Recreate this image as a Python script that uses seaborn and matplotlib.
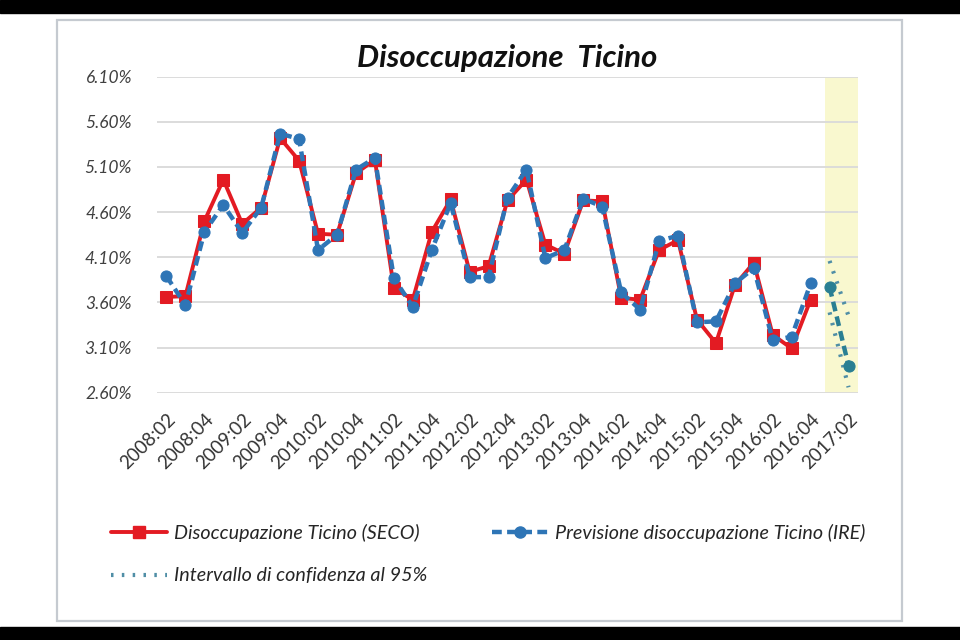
import numpy as np
import pandas as pd
import matplotlib.pyplot as plt
import seaborn as sns
from matplotlib.lines import Line2D
from matplotlib.patches import Rectangle

# trimestri dal 2008:02 al 2017:02
trimestri = [f"{a}:{q:02d}" for a in range(2008, 2018) for q in range(1, 5)][1:38]
etichette_x = ["2008:02", "2008:04", "2009:02", "2009:04", "2010:02", "2010:04",
               "2011:02", "2011:04", "2012:02", "2012:04", "2013:02", "2013:04",
               "2014:02", "2014:04", "2015:02", "2015:04", "2016:02", "2016:04",
               "2017:02"]

# Disoccupazione Ticino (SECO), %
seco = [3.66, 3.67, 4.50, 4.96, 4.47, 4.65, 5.42, 5.17, 4.36, 4.35, 5.03, 5.18,
        3.76, 3.63, 4.38, 4.74, 3.94, 4.00, 4.73, 4.96, 4.24, 4.14, 4.73, 4.72,
        3.65, 3.63, 4.18, 4.29, 3.41, 3.15, 3.79, 4.04, 3.24, 3.09, 3.63]
# Previsione IRE (stima sul passato), %
ire = [3.89, 3.57, 4.38, 4.68, 4.37, 4.65, 5.47, 5.41, 4.18, 4.35, 5.07, 5.20,
       3.87, 3.55, 4.18, 4.70, 3.88, 3.88, 4.76, 5.07, 4.09, 4.18, 4.75, 4.66,
       3.71, 3.52, 4.28, 4.34, 3.38, 3.39, 3.81, 3.98, 3.18, 3.22, 3.81]
# previsione 2017:01 - 2017:02 e intervallo di confidenza
previsione = [3.77, 2.90]
ic_sup = [4.06, 3.45]
ic_inf = [3.49, 2.66]
y_ticks = [2.60, 3.10, 3.60, 4.10, 4.60, 5.10, 5.60, 6.10]

idx = list(range(len(trimestri)))
df_seco = pd.DataFrame({"x": idx[:len(seco)], "val": seco})
df_ire = pd.DataFrame({"x": idx[:len(ire)], "val": ire})
df_prev = pd.DataFrame({"x": idx[-2:], "val": previsione})
df_ic = pd.DataFrame({"x": idx[-2:], "sup": ic_sup, "inf": ic_inf})

ROSSO = "#e31b23"
BLU = "#2e75b6"
TEAL = "#2a7f93"
PUNTI = "#4f8ea6"

sns.set_theme(style="white")
plt.rcParams['font.family'] = ['Lato', 'DejaVu Sans']

fig = plt.figure(figsize=(9.6, 6.4), dpi=100)
fig.patch.set_facecolor("white")

# bande nere dello screenshot e cornice del grafico
fig.patches.append(Rectangle((0, 1 - 13 / 640), 1, 13 / 640, transform=fig.transFigure,
                             color="black", zorder=0))
fig.patches.append(Rectangle((0, 0), 1, 13 / 640, transform=fig.transFigure,
                             color="black", zorder=0))
fig.patches.append(Rectangle((57 / 960, 1 - 621 / 640), 845 / 960, 601 / 640,
                             transform=fig.transFigure, fill=False,
                             edgecolor="#c5cad0", lw=1.6, zorder=0))

ax = fig.add_axes([157 / 960, 1 - 392.7 / 640, 701 / 960, 316 / 640])
ax.set_facecolor("none")

ax.axvspan(34.75, 36.5, color="#f9f8cf", zorder=0, lw=0)

sns.lineplot(data=df_seco, x="x", y="val", ax=ax, color=ROSSO, lw=2.8,
             marker="s", markersize=8.5, markeredgecolor=ROSSO, zorder=3)
sns.lineplot(data=df_ire, x="x", y="val", ax=ax, color=BLU, lw=3.2,
             linestyle=(0, (2.2, 1.2)), marker="o", markersize=8,
             markeredgecolor=BLU, zorder=4)
sns.lineplot(data=df_prev, x="x", y="val", ax=ax, color=TEAL, lw=3.2,
             linestyle=(0, (2.2, 1.2)), marker="o", markersize=8,
             markeredgecolor=TEAL, zorder=4)
sns.lineplot(data=df_ic, x="x", y="sup", ax=ax, color=PUNTI, lw=3,
             linestyle=(0, (0.6, 2.0)), zorder=3)
sns.lineplot(data=df_ic, x="x", y="inf", ax=ax, color=PUNTI, lw=3,
             linestyle=(0, (0.6, 2.0)), zorder=3)

ax.set_xlim(-0.5, 36.5)
ax.set_ylim(2.6, 6.1)
ax.set_yticks(y_ticks)
ax.set_yticklabels([f"{v:.2f}%" for v in y_ticks], fontsize=12.5, style="italic",
                   color="#404040")
ax.set_xticks(idx[::2])
ax.set_xticklabels(etichette_x, rotation=45, ha="right", rotation_mode="anchor",
                   fontsize=13.5, color="#333333")
ax.tick_params(axis="x", length=0, pad=13)
ax.tick_params(axis="y", length=0, pad=18)
ax.set_xlabel("")
ax.set_ylabel("")
ax.yaxis.grid(True, color="#d9d9d9", lw=1.3)
ax.xaxis.grid(False)
for s in ax.spines.values():
    s.set_visible(False)

fig.text(507 / 960, 1 - 58 / 640, "Disoccupazione  Ticino", ha="center", va="center",
         fontsize=22.5, fontweight="bold", style="italic", color="#111111")

maniglie = [
    Line2D([], [], color=ROSSO, lw=2.8, marker="s", markersize=8.5),
    Line2D([], [], color=PUNTI, lw=3, linestyle=(0, (0.6, 2.0))),
    Line2D([], [], color=BLU, lw=3.2, linestyle=(0, (2.2, 1.2)), marker="o", markersize=8),
]
testi = ["Disoccupazione Ticino (SECO)", "Intervallo di confidenza al 95%",
         "Previsione disoccupazione Ticino (IRE)"]
leg = fig.legend(maniglie, testi, loc="upper left", bbox_to_anchor=(93 / 960, 1 - 506 / 640),
                 ncol=2, frameon=False, handlelength=2.85, handletextpad=0.35,
                 columnspacing=3.3, labelspacing=1.3,
                 prop={"size": 14.2, "style": "italic"})
for t in leg.get_texts():
    t.set_color("#262626")

fig.savefig("out.png", dpi=100)
